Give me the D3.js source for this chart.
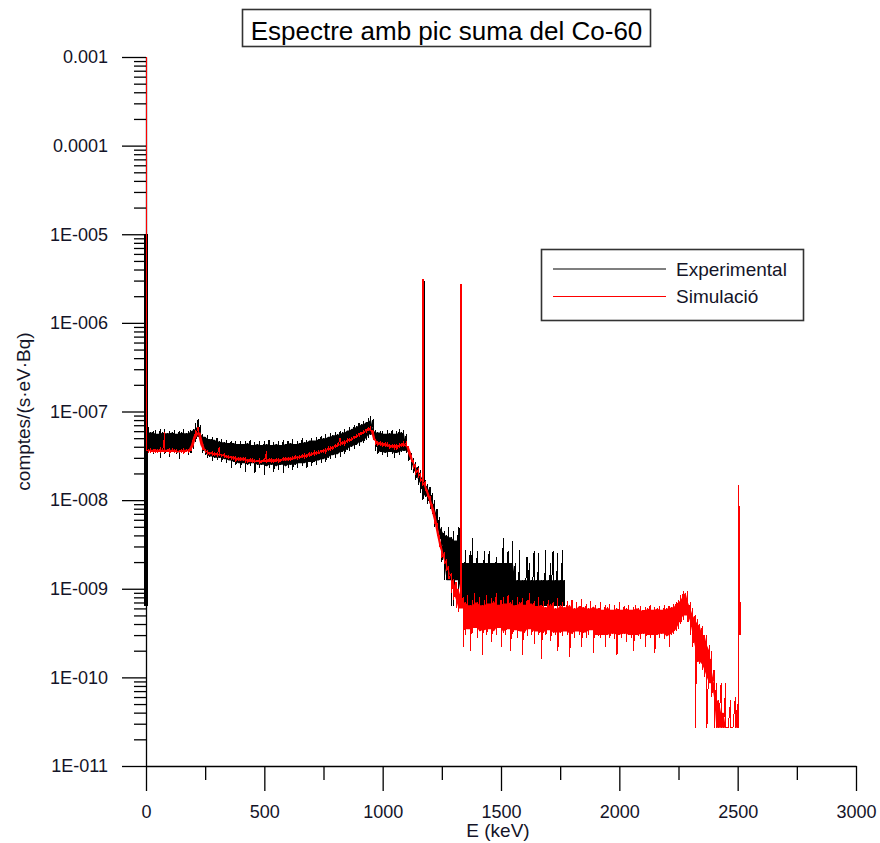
<!DOCTYPE html>
<html>
<head>
<meta charset="utf-8">
<script src="https://cdn.jsdelivr.net/npm/d3@7"></script>
<style>
  html, body { margin: 0; padding: 0; background: #fff; }
  svg { display: block; font-family: "Liberation Sans", Arial, sans-serif; }
</style>
</head>
<body>
<svg id="chart" width="880" height="843"></svg>
<script>
// ---------------- DATA (values in units of 1e-9 comptes/(s·eV·Bq)) ----------------
const UNIT = 1e-9;
const titleText = "Espectre amb pic suma del Co-60";
const seriesNames = ["Experimental", "Simulació"];
const xTicks = [0, 500, 1000, 1500, 2000, 2500, 3000];
const xMinorTicks = [250, 750, 1250, 1750, 2250, 2750];
const yTickValues = [1e-11, 1e-10, 1e-9, 1e-8, 1e-7, 1e-6, 1e-5, 1e-4, 1e-3];
const yTickLabels = ["1E-011", "1E-010", "1E-009", "1E-008", "1E-007", "1E-006", "1E-005", "0.0001", "0.001"];

// Experimental: channel energies (keV) every 10 keV from 0 to 1770, upper / lower envelope
const expE = d3.range(0, 1780, 10);
const expHi = [
  10000, 66, 58, 60, 62, 56, 63, 58, 64, 57,
  60, 58, 62, 56, 61, 58, 63, 57, 60, 62,
  64, 74, 82, 70, 56, 52, 54, 49, 51, 48,
  50, 46, 49, 45, 48, 44, 47, 44, 46, 43,
  47, 43, 46, 44, 48, 42, 45, 43, 47, 42,
  46, 43, 48, 42, 45, 43, 47, 42, 48, 43,
  46, 44, 49, 43, 47, 44, 50, 45, 48, 47,
  50, 47, 51, 49, 53, 50, 55, 52, 57, 54,
  58, 55, 60, 58, 64, 61, 66, 64, 70, 68,
  74, 72, 78, 76, 84, 90, 82, 62, 58, 60,
  60, 56, 61, 57, 62, 56, 60, 63, 58, 62,
  56, 40, 34, 30, 27, 24, 22, 19, 17, 15,
  14, 12, 10, 8, 6.5, 5, 4.5, 4, 5, 3.8,
  4.5, 3.5, 5, 10.5, 1.95, 2.7, 1.95, 2.7, 3.7, 1.95,
  2.7, 1.95, 1.95, 2.7, 1.95, 2.7, 1.95, 1.95, 2.3, 1.95,
  1.95, 3.7, 1.95, 2.7, 1.95, 3.5, 1.95, 1.25, 2.7, 1.25,
  1.25, 2.3, 1.95, 1.25, 2.7, 1.25, 2.5, 1.25, 1.25, 2.7,
  1.25, 1.95, 2.7, 1.25, 2.5, 1.25, 2.7, 1.25
];
const expLo = [
  0.64, 34, 36, 33, 35, 34, 30, 36, 33, 35,
  31, 36, 34, 33, 29, 35, 33, 36, 32, 34,
  38, 45, 52, 44, 34, 32, 30, 31, 28, 30,
  28, 30, 27, 29, 26, 28, 23, 27, 25, 26,
  23, 26, 21, 25, 24, 26, 20, 25, 23, 25,
  19, 24, 23, 25, 21, 24, 22, 25, 20, 24,
  23, 25, 22, 25, 23, 26, 24, 26, 23, 27,
  24, 27, 25, 28, 26, 29, 27, 30, 29, 32,
  30, 33, 31, 35, 33, 37, 36, 40, 38, 42,
  41, 45, 44, 48, 50, 55, 48, 36, 33, 35,
  32, 34, 31, 35, 33, 30, 34, 32, 35, 36,
  34, 28, 22, 20, 17, 15, 12, 10, 11, 9,
  8, 7, 5, 4, 3.3, 2, 1.25, 1.25, 1.25, 0.64,
  0.64, 1.25, 0.9, 0.64, 0.64, 0.64, 0.64, 0.64, 0.64, 0.64,
  0.64, 0.64, 0.64, 0.64, 0.64, 0.64, 0.64, 0.64, 0.64, 0.64,
  0.64, 0.64, 0.64, 0.64, 0.64, 0.64, 0.64, 0.64, 0.64, 0.64,
  0.64, 0.64, 0.64, 0.64, 0.64, 0.64, 0.64, 0.64, 0.64, 0.64,
  0.64, 0.64, 0.64, 0.64, 0.64, 0.64, 0.64, 0.64
];
// narrow lines: the channel at 0 keV and the 1173 keV photopeak
const expPeakE = [0, 1177];
const expPeakLo = [0.64, 15];
const expPeakHi = [10000, 3000];

// Simulation: channel energies every 10 keV from 0 to 2500
const simE = d3.range(0, 2510, 10);
const simHi = [
  1000000, 37, 38, 37, 38, 37, 38, 37, 58, 37,
  38, 37, 37, 38, 36, 37, 38, 37, 37, 40,
  50, 62, 67, 55, 42, 37, 36, 35, 35, 34,
  34, 40, 33, 33, 32, 32, 31, 31, 31, 30,
  30, 30, 30, 29, 29, 29, 29, 28, 29, 28,
  29, 36, 29, 29, 29, 29, 29, 29, 30, 30,
  30, 30, 31, 31, 31, 32, 32, 33, 33, 34,
  34, 35, 35, 36, 37, 37, 38, 39, 40, 41,
  42, 43, 50, 46, 47, 48, 50, 51, 53, 55,
  57, 59, 61, 63, 66, 68, 60, 48, 46, 45,
  45, 44, 44, 43, 42, 42, 42, 42, 44, 46,
  45, 40, 32, 28, 25, 22, 20, 18, 16, 13,
  11, 9, 7, 5.5, 4, 3, 2.5, 2.1, 1.8, 1.5,
  1.3, 1.2, 1.0, 1.1, 0.8, 0.7, 0.85, 0.65, 0.75, 0.9,
  0.7, 0.8, 0.65, 0.75, 0.85, 0.68, 0.78, 0.72, 0.9, 0.66,
  0.75, 0.8, 0.68, 0.85, 0.7, 0.75, 0.65, 0.8, 0.7, 0.78,
  0.66, 0.74, 0.9, 0.68, 0.72, 0.64, 0.8, 0.66, 0.72, 0.62,
  0.75, 0.68, 0.7, 0.6, 0.78, 0.65, 0.7, 0.62, 0.72, 0.66,
  0.74, 0.6, 0.7, 0.64, 0.76, 0.62, 0.68, 0.6, 0.72, 0.63,
  0.66, 0.6, 0.7, 0.58, 0.65, 0.62, 0.68, 0.58, 0.66, 0.6,
  0.7, 0.58, 0.64, 0.6, 0.66, 0.58, 0.62, 0.66, 0.6, 0.64,
  0.57, 0.63, 0.6, 0.66, 0.58, 0.62, 0.6, 0.64, 0.58, 0.66,
  0.6, 0.64, 0.62, 0.68, 0.7, 0.75, 0.85, 0.95, 0.9, 0.95,
  0.7, 0.6, 0.5, 0.45, 0.4, 0.38, 0.3, 0.3, 0.23, 0.2,
  0.12, 0.086, 0.055, 0.086, 0.04, 0.086, 0.027, 0.055, 0.027, 0.06,
  0.05
];
const simLo = [
  36, 35, 35, 34, 35, 35, 34, 35, 35, 35,
  34, 35, 34, 35, 34, 35, 34, 35, 34, 36,
  42, 52, 58, 45, 37, 34, 33, 33, 32, 32,
  31, 32, 31, 30, 30, 30, 29, 29, 28, 28,
  28, 28, 27, 27, 27, 27, 27, 27, 26, 27,
  27, 27, 27, 27, 27, 27, 27, 28, 28, 28,
  28, 28, 29, 29, 29, 30, 30, 30, 31, 31,
  32, 32, 33, 33, 34, 35, 35, 36, 37, 38,
  39, 40, 41, 42, 43, 44, 46, 47, 49, 50,
  52, 54, 56, 58, 60, 62, 48, 43, 42, 41,
  41, 40, 40, 39, 39, 38, 38, 39, 40, 41,
  40, 34, 27, 23, 20, 18, 16, 15, 13, 11,
  9, 7.5, 5.5, 4, 3, 2.3, 1.9, 1.6, 1.3, 0.9,
  0.75, 0.6, 0.55, 0.6, 0.22, 0.3, 0.35, 0.2, 0.32, 0.36,
  0.28, 0.33, 0.18, 0.34, 0.3, 0.35, 0.25, 0.33, 0.3, 0.36,
  0.22, 0.32, 0.3, 0.35, 0.2, 0.31, 0.34, 0.28, 0.33, 0.18,
  0.32, 0.29, 0.35, 0.3, 0.24, 0.33, 0.3, 0.16, 0.32, 0.3,
  0.34, 0.26, 0.32, 0.3, 0.2, 0.32, 0.29, 0.33, 0.3, 0.17,
  0.31, 0.28, 0.33, 0.3, 0.22, 0.32, 0.28, 0.3, 0.34, 0.19,
  0.3, 0.29, 0.28, 0.3, 0.22, 0.3, 0.28, 0.31, 0.27, 0.18,
  0.3, 0.28, 0.31, 0.25, 0.3, 0.28, 0.2, 0.3, 0.29, 0.27,
  0.31, 0.22, 0.3, 0.28, 0.3, 0.19, 0.3, 0.28, 0.31, 0.27,
  0.29, 0.22, 0.3, 0.31, 0.33, 0.35, 0.4, 0.45, 0.5, 0.42,
  0.3, 0.22, 0.027, 0.15, 0.14, 0.12, 0.1, 0.027, 0.086, 0.06,
  0.027, 0.027, 0.027, 0.027, 0.027, 0.027, 0.027, 0.027, 0.027, 0.027,
  0.027
];
const simPeakE = [1172, 1332];
const simPeakLo = [16, 0.6];
const simPeakHi = [3100, 2740];
// sum peak (Co-60, 2505 keV) and the last channels after it
const simTailE = [2505, 2505, 2507, 2508, 2510, 2511];
const simTailV = [0.027, 15, 0.3, 0.7, 0.3, 0.7];

// ---------------- CHART ----------------
const svg = d3.select("#chart");
const mLeft = 146, mRight = 856, mTop = 57, mBottom = 766;

const x = d3.scaleLinear().domain([0, 3000]).range([mLeft, mRight]);
const y = d3.scaleLog().domain([1e-11, 1e-3]).range([mBottom, mTop]);

// minor y ticks
const yMinor = [];
yTickValues.slice(0, -1).forEach(d => { for (let k = 2; k <= 9; k++) yMinor.push(d * k); });

const fontTick = "18px";

// Y minor axis
svg.append("g")
  .attr("transform", `translate(${mLeft},0)`)
  .call(d3.axisLeft(y).tickValues(yMinor).tickSize(12).tickFormat(""))
  .call(g => g.select(".domain").remove());
// Y major axis
svg.append("g")
  .attr("transform", `translate(${mLeft},0)`)
  .call(d3.axisLeft(y).tickValues(yTickValues).tickSize(24).tickSizeOuter(0).tickPadding(14)
    .tickFormat((d, i) => yTickLabels[i]))
  .call(g => g.selectAll("text").style("font-size", fontTick).attr("fill", "#141428"));

// X minor axis
svg.append("g")
  .attr("transform", `translate(0,${mBottom})`)
  .call(d3.axisBottom(x).tickValues(xMinorTicks).tickSize(14).tickFormat(""))
  .call(g => g.select(".domain").remove());
// X major axis
svg.append("g")
  .attr("transform", `translate(0,${mBottom})`)
  .call(d3.axisBottom(x).tickValues(xTicks).tickSize(25).tickSizeOuter(0).tickPadding(14)
    .tickFormat(d3.format("d")))
  .call(g => g.selectAll("text").style("font-size", fontTick).attr("fill", "#141428"));

svg.selectAll(".tick line, .domain").attr("stroke", "#000").attr("stroke-width", 1.3);
svg.selectAll("g").attr("font-family", null);

// axis titles
svg.append("text")
  .attr("transform", `translate(30,${(328 + 495) / 2}) rotate(-90)`)
  .attr("text-anchor", "middle")
  .style("font-size", "19px").attr("fill", "#141428")
  .text("comptes/(s·eV·Bq)");
svg.append("text")
  .attr("x", 498).attr("y", 837)
  .attr("text-anchor", "middle")
  .style("font-size", "19px").attr("fill", "#141428")
  .text("E (keV)");

// data: each channel drawn from its upper to its lower reading (needle line),
// plus a solid core band where neighbouring channels overlap
const envelope = (E, hi, lo) => E.flatMap((e, i) => [[e, hi[i] * UNIT], [e, lo[i] * UNIT]]);
const core = (E, hi, lo) => E.map((e, i) => {
  const a = Math.max(0, i - 1), b = Math.min(E.length - 1, i + 1);
  const t = Math.min(hi[a], hi[i], hi[b]);
  const bt = Math.max(lo[a], lo[i], lo[b]);
  return { e, t: Math.max(t, bt) * UNIT, b: Math.min(t, bt) * UNIT };
});
const line = d3.line().x(d => x(d[0])).y(d => y(d[1]));
const area = d3.area().x(d => x(d.e)).y0(d => y(d.b)).y1(d => y(d.t));

function drawSeries(g, E, hi, lo, color) {
  g.append("path")
    .attr("d", area(core(E, hi, lo).slice(1)))
    .attr("fill", color).attr("stroke", "none");
  g.append("path")
    .attr("d", line(envelope(E, hi, lo)))
    .attr("fill", "none").attr("stroke", color).attr("stroke-width", 1)
    .attr("shape-rendering", "crispEdges");
}

const plot = svg.append("g");
drawSeries(plot, expE, expHi, expLo, "#000");
expPeakE.forEach((e, i) => {
  plot.append("path")
    .attr("d", line([[e, expPeakLo[i] * UNIT], [e, expPeakHi[i] * UNIT]]))
    .attr("fill", "none").attr("stroke", "#000")
    .attr("stroke-width", e === 0 ? 3.5 : 1.2).attr("shape-rendering", "crispEdges");
});

drawSeries(plot, simE, simHi, simLo, "#ff0000");
simPeakE.forEach((e, i) => {
  plot.append("path")
    .attr("d", line([[e, simPeakLo[i] * UNIT], [e, simPeakHi[i] * UNIT]]))
    .attr("fill", "none").attr("stroke", "#ff0000").attr("stroke-width", 1.8)
    .attr("shape-rendering", "crispEdges");
});
plot.append("path")
  .attr("d", line(simTailE.map((e, i) => [e, simTailV[i] * UNIT])))
  .attr("fill", "none").attr("stroke", "#ff0000").attr("stroke-width", 1.2)
  .attr("shape-rendering", "crispEdges");

// title box
const tg = svg.append("g");
tg.append("rect").attr("x", 242.5).attr("y", 9.5).attr("width", 408).attr("height", 37)
  .attr("fill", "#fff").attr("stroke", "#333").attr("stroke-width", 1.6);
tg.append("text").attr("x", 446.5).attr("y", 40).attr("text-anchor", "middle")
  .style("font-size", "26px").attr("fill", "#000").text(titleText);

// legend
const lg = svg.append("g");
lg.append("rect").attr("x", 541.5).attr("y", 249.5).attr("width", 262).attr("height", 71)
  .attr("fill", "#fff").attr("stroke", "#333").attr("stroke-width", 1.6);
const legColors = ["#000", "#ff0000"];
const legY = [269, 296.5];
seriesNames.forEach((n, i) => {
  lg.append("line").attr("x1", 553).attr("x2", 666).attr("y1", legY[i]).attr("y2", legY[i])
    .attr("stroke", legColors[i]).attr("stroke-width", 1.2);
  lg.append("text").attr("x", 676).attr("y", legY[i] + 6.5)
    .style("font-size", "19px").attr("fill", "#141428").text(n);
});
</script>
</body>
</html>
